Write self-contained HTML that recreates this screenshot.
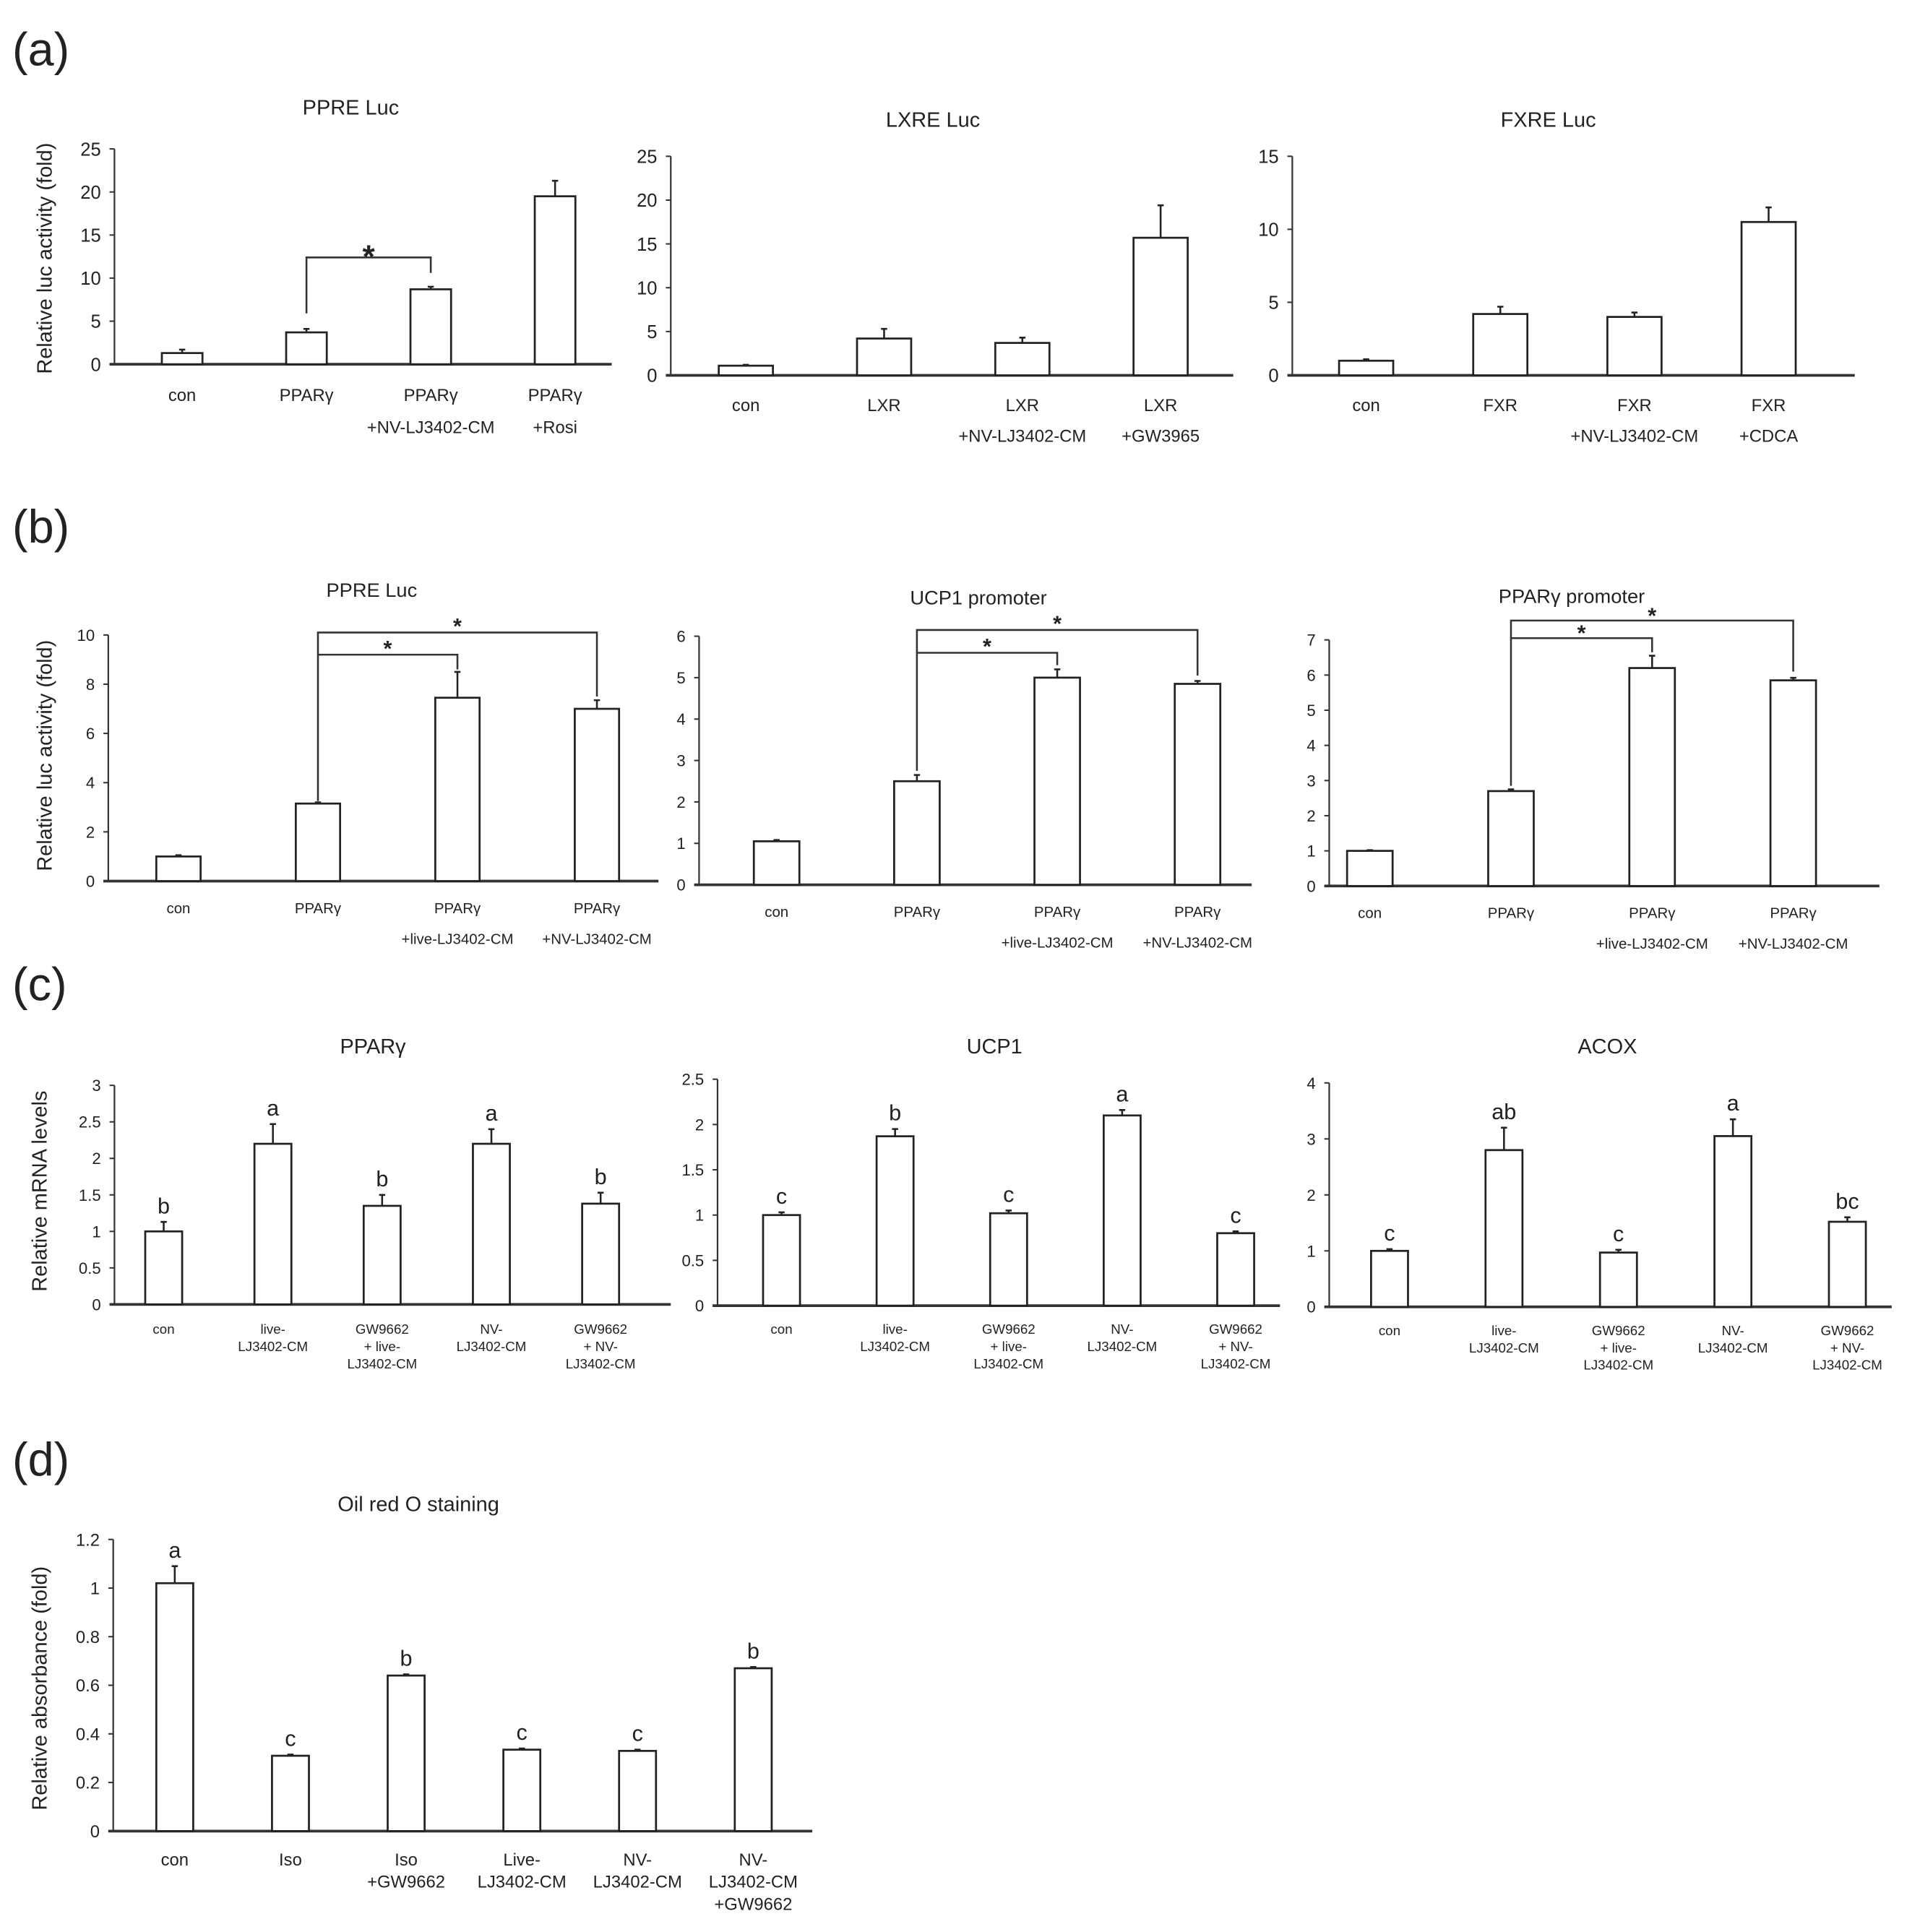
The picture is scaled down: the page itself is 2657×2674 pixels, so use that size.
<!DOCTYPE html>
<html><head><meta charset="utf-8"><style>
html,body{margin:0;padding:0;background:#fff}
svg{display:block}
text{font-family:"Liberation Sans",Arial,sans-serif;fill:#222}
</style></head><body>
<svg id="fig" width="2657" height="2674" viewBox="0 0 1560 1570" preserveAspectRatio="none" xmlns="http://www.w3.org/2000/svg">
<text x="10" y="53" font-size="38">(a)</text>
<text x="10" y="441" font-size="38">(b)</text>
<text x="10" y="813" font-size="38">(c)</text>
<text x="10" y="1199" font-size="38">(d)</text>
</svg>
<script>
// ---- data ----
const a1Categories = [["con"],["PPARγ"],["PPARγ","+NV-LJ3402-CM"],["PPARγ","+Rosi"]];
const a1Values = [1.3, 3.7, 8.7, 19.5];
const a1Errors = [0.4, 0.4, 0.3, 1.8];
const a1Ticks = [0,5,10,15,20,25];
const a2Categories = [["con"],["LXR"],["LXR","+NV-LJ3402-CM"],["LXR","+GW3965"]];
const a2Values = [1.1, 4.2, 3.7, 15.7];
const a2Errors = [0.1, 1.1, 0.6, 3.7];
const a2Ticks = [0,5,10,15,20,25];
const a3Categories = [["con"],["FXR"],["FXR","+NV-LJ3402-CM"],["FXR","+CDCA"]];
const a3Values = [1.0, 4.2, 4.0, 10.5];
const a3Errors = [0.1, 0.5, 0.3, 1.0];
const a3Ticks = [0,5,10,15];
const bCategories = [["con"],["PPARγ"],["PPARγ","+live-LJ3402-CM"],["PPARγ","+NV-LJ3402-CM"]];
const b1Values = [1.0, 3.15, 7.45, 7.0];
const b1Errors = [0.05, 0.05, 1.05, 0.35];
const b1Ticks = [0,2,4,6,8,10];
const b2Values = [1.05, 2.5, 5.0, 4.85];
const b2Errors = [0.03, 0.15, 0.2, 0.07];
const b2Ticks = [0,1,2,3,4,5,6];
const b3Values = [1.0, 2.7, 6.2, 5.85];
const b3Errors = [0.02, 0.05, 0.35, 0.07];
const b3Ticks = [0,1,2,3,4,5,6,7];
const cCategories = [["con"],["live-","LJ3402-CM"],["GW9662","+ live-","LJ3402-CM"],["NV-","LJ3402-CM"],["GW9662","+ NV-","LJ3402-CM"]];
const c1Values = [1.0, 2.2, 1.35, 2.2, 1.38];
const c1Errors = [0.13, 0.27, 0.15, 0.2, 0.15];
const c1Letters = ["b","a","b","a","b"];
const c1Ticks = [0,0.5,1,1.5,2,2.5,3];
const c2Values = [1.0, 1.87, 1.02, 2.1, 0.8];
const c2Errors = [0.03, 0.08, 0.03, 0.06, 0.02];
const c2Letters = ["c","b","c","a","c"];
const c2Ticks = [0,0.5,1,1.5,2,2.5];
const c3Values = [1.0, 2.8, 0.97, 3.05, 1.52];
const c3Errors = [0.03, 0.4, 0.05, 0.3, 0.08];
const c3Letters = ["c","ab","c","a","bc"];
const c3Ticks = [0,1,2,3,4];
const dCategories = [["con"],["Iso"],["Iso","+GW9662"],["Live-","LJ3402-CM"],["NV-","LJ3402-CM"],["NV-","LJ3402-CM","+GW9662"]];
const dValues = [1.02, 0.31, 0.64, 0.335, 0.33, 0.67];
const dErrors = [0.07, 0.005, 0.005, 0.005, 0.005, 0.005];
const dLetters = ["a","c","b","c","c","b"];
const dTicks = [0,0.2,0.4,0.6,0.8,1,1.2];

const NS = "http://www.w3.org/2000/svg";
const svg = document.getElementById("fig");
function mk(tag, attrs, parent){
  const e = document.createElementNS(NS, tag);
  for (const k in attrs) e.setAttribute(k, attrs[k]);
  (parent||svg).appendChild(e);
  return e;
}
function chart(id, cfg){
  const g = mk("g", {});
  
  
  const max = cfg.ticks[cfg.ticks.length-1];
  const y = v => cfg.y0 - (v/max)*(cfg.y0-cfg.yTop);
  const n = cfg.values.length;
  const xc = i => cfg.firstX + i*(cfg.lastX-cfg.firstX)/(n-1);
  const t = mk("text", {x:cfg.titleX, y:cfg.titleY, "font-size":cfg.titleSize||17, "text-anchor":"middle"}, g);
  t.textContent = cfg.title;
  
  
  const ya = mk("line", {x1:cfg.x0, y1:cfg.yTop, x2:cfg.x0, y2:cfg.y0, stroke:"#333", "stroke-width":1.3}, g);
  
  
  const xa = mk("line", {x1:cfg.x0-4, y1:cfg.y0, x2:cfg.x1, y2:cfg.y0, stroke:"#333", "stroke-width":2.2}, g);
  
  
  cfg.ticks.forEach(v => {
    mk("line", {x1:cfg.x0-4, y1:y(v), x2:cfg.x0, y2:y(v), stroke:"#333", "stroke-width":1.2}, g);
    const tl = mk("text", {x:cfg.x0-11, y:y(v)+cfg.tickSize*0.36, "font-size":cfg.tickSize, "text-anchor":"end"}, g);
    tl.textContent = String(v);
    
    
  });
  if (cfg.ylabel){
    const yl = mk("text", {x:0, y:0, "font-size":17, "text-anchor":"middle", transform:`translate(${cfg.ylabelX},${cfg.ylabelY}) rotate(-90)`}, g);
    yl.textContent = cfg.ylabel;
    
    
  }
  for (let i=0;i<n;i++){
    const cx = xc(i), v = cfg.values[i], e = cfg.errors[i];
    const bar = mk("rect", {x:cx-cfg.bw/2, y:y(v), width:cfg.bw, height:cfg.y0-y(v), fill:"#fff", stroke:"#222", "stroke-width":1.6}, g);
    
    
    const eb = mk("path", {d:`M${cx} ${y(v)} V${y(v+e)} M${cx-2.5} ${y(v+e)} H${cx+2.5}`, stroke:"#222", "stroke-width":1.5, fill:"none"}, g);
    
    
    if (cfg.letters){
      const lt = mk("text", {x:cx, y:y(v+e)-7, "font-size":18, "text-anchor":"middle"}, g);
      lt.textContent = cfg.letters[i];
      
      
    }
    cfg.cats[i].forEach((line, j) => {
      const xl = mk("text", {x:cx, y:cfg.labY + j*cfg.labDy, "font-size":cfg.labSize, "text-anchor":"middle"}, g);
      xl.textContent = line;
      
      
    });
  }
  (cfg.brackets||[]).forEach(b => {
    const xa_ = xc(b.from), xb = xc(b.to);
    const by = y(b.level);
    const p = mk("path", {d:`M${xa_} ${y(b.leftV)} V${by} H${xb} V${y(b.rightV)}`, stroke:"#333", "stroke-width":1.5, fill:"none"}, g);
    
    
    const s = mk("text", {x:(xa_+xb)/2, y:by+(b.starDy||0), "font-size":b.starSize||18, "font-weight":"bold", "text-anchor":"middle"}, g);
    s.textContent = "*";
    
    
  });
}
// panel a
chart("a-ppre", {title:"PPRE Luc", titleX:285, titleY:93, x0:93, x1:497, y0:296, yTop:121, ticks:a1Ticks, tickSize:15,
  firstX:148, lastX:451, bw:33, values:a1Values, errors:a1Errors, cats:a1Categories, labY:326, labDy:26, labSize:14,
  ylabel:"Relative luc activity (fold)", ylabelX:42, ylabelY:210,
  brackets:[{from:1,to:2,level:12.4,leftV:5.9,rightV:10.6,starSize:26,starDy:8}]});
chart("a-lxre", {title:"LXRE Luc", titleX:758, titleY:103, x0:545, x1:1002, y0:305, yTop:127, ticks:a2Ticks, tickSize:15,
  firstX:606, lastX:943, bw:44, values:a2Values, errors:a2Errors, cats:a2Categories, labY:334, labDy:25, labSize:14});
chart("a-fxre", {title:"FXRE Luc", titleX:1258, titleY:103, x0:1050, x1:1507, y0:305, yTop:127, ticks:a3Ticks, tickSize:15,
  firstX:1110, lastX:1437, bw:44, values:a3Values, errors:a3Errors, cats:a3Categories, labY:334, labDy:25, labSize:14});
// panel b
chart("b-ppre", {title:"PPRE Luc", titleX:302, titleY:485, titleSize:16, x0:88, x1:535, y0:716, yTop:516, ticks:b1Ticks, tickSize:13,
  firstX:145, lastX:485, bw:36, values:b1Values, errors:b1Errors, cats:bCategories, labY:742, labDy:25, labSize:12,
  ylabel:"Relative luc activity (fold)", ylabelX:42, ylabelY:614,
  brackets:[{from:1,to:2,level:9.2,leftV:3.25,rightV:8.6,starDy:1},{from:1,to:3,level:10.1,leftV:9.2,rightV:7.5,starDy:1}]});
chart("b-ucp1", {title:"UCP1 promoter", titleX:795, titleY:491, titleSize:16, x0:568, x1:1017, y0:719, yTop:517, ticks:b2Ticks, tickSize:13,
  firstX:631, lastX:973, bw:37, values:b2Values, errors:b2Errors, cats:bCategories, labY:745, labDy:25, labSize:12,
  brackets:[{from:1,to:2,level:5.6,leftV:2.75,rightV:5.3,starDy:1},{from:1,to:3,level:6.15,leftV:5.6,rightV:5.05,starDy:1}]});
chart("b-pparg", {title:"PPARγ promoter", titleX:1277, titleY:490, titleSize:16, x0:1080, x1:1527, y0:720, yTop:520, ticks:b3Ticks, tickSize:13,
  firstX:1113, lastX:1457, bw:37, values:b3Values, errors:b3Errors, cats:bCategories, labY:746, labDy:25, labSize:12,
  brackets:[{from:1,to:2,level:7.05,leftV:2.85,rightV:6.65,starDy:2},{from:1,to:3,level:7.55,leftV:7.05,rightV:6.1,starDy:2}]});
// panel c
chart("c-pparg", {title:"PPARγ", titleX:303, titleY:856, x0:93, x1:545, y0:1060, yTop:882, ticks:c1Ticks, tickSize:13,
  firstX:133, lastX:488, bw:30, values:c1Values, errors:c1Errors, letters:c1Letters, cats:cCategories, labY:1084, labDy:14, labSize:11,
  ylabel:"Relative mRNA levels", ylabelX:38, ylabelY:968});
chart("c-ucp1", {title:"UCP1", titleX:808, titleY:856, x0:583, x1:1040, y0:1061, yTop:877, ticks:c2Ticks, tickSize:13,
  firstX:635, lastX:1004, bw:30, values:c2Values, errors:c2Errors, letters:c2Letters, cats:cCategories, labY:1084, labDy:14, labSize:11});
chart("c-acox", {title:"ACOX", titleX:1306, titleY:856, x0:1080, x1:1537, y0:1062, yTop:880, ticks:c3Ticks, tickSize:13,
  firstX:1129, lastX:1501, bw:30, values:c3Values, errors:c3Errors, letters:c3Letters, cats:cCategories, labY:1085, labDy:14, labSize:11});
// panel d
chart("d-oilred", {title:"Oil red O staining", titleX:340, titleY:1228, x0:92, x1:660, y0:1488, yTop:1251, ticks:dTicks, tickSize:14,
  firstX:142, lastX:612, bw:30, values:dValues, errors:dErrors, letters:dLetters, cats:dCategories, labY:1516, labDy:18, labSize:14,
  ylabel:"Relative absorbance (fold)", ylabelX:38, ylabelY:1372});
</script>
</body></html>
